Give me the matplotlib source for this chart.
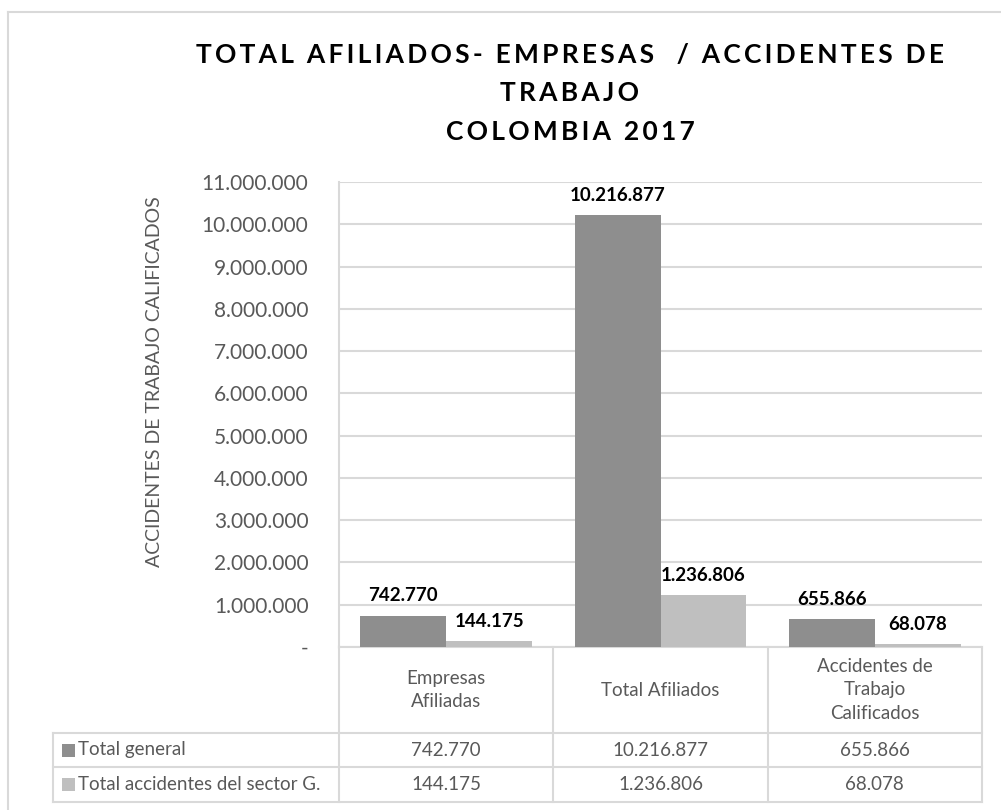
import matplotlib
matplotlib.use("Agg")
import matplotlib.pyplot as plt
from matplotlib.lines import Line2D
from matplotlib.patches import Rectangle
import numpy as np

# datos
categorias = ["Empresas\nAfiliadas", "Total Afiliados", "Accidentes de\nTrabajo\nCalificados"]
series = ["Total general", "Total accidentes del sector G."]
total_general = [742770, 10216877, 655866]
total_sector_g = [144175, 1236806, 68078]
y_ticks = [0, 1000000, 2000000, 3000000, 4000000, 5000000, 6000000,
           7000000, 8000000, 9000000, 10000000, 11000000]
titulo = ["TOTAL AFILIADOS- EMPRESAS  / ACCIDENTES DE", "TRABAJO", "COLOMBIA 2017"]

COLOR_OSCURO = "#8E8E8E"
COLOR_CLARO = "#BFBFBF"
GRIS_TEXTO = "#595959"
GRIS_LINEA = "#D9D9D9"

plt.rcParams['font.family'] = ['Lato', 'DejaVu Sans']

W, H = 1001, 810
fig = plt.figure(figsize=(W / 100, H / 100), dpi=100)

def fx(px):
    return px / W

def fy(py):
    return 1 - py / H

# marco exterior
fig.add_artist(Line2D([fx(8), fx(8)], [fy(12), 0], color=GRIS_LINEA, lw=1.5))
fig.add_artist(Line2D([fx(8), 1], [fy(12), fy(12)], color=GRIS_LINEA, lw=1.5))

AX_L, AX_R, AX_T, AX_B = 339, 982, 182, 647
ax = fig.add_axes([fx(AX_L), fy(AX_B), fx(AX_R - AX_L), (AX_B - AX_T) / H])

def fmt(v):
    return f"{v:,}".replace(",", ".")

x = np.arange(len(categorias))
ancho = 0.4
b1 = ax.bar(x - ancho / 2, total_general, ancho, color=COLOR_OSCURO, zorder=3)
b2 = ax.bar(x + ancho / 2, total_sector_g, ancho, color=COLOR_CLARO, zorder=3)

for barras, vals in ((b1, total_general), (b2, total_sector_g)):
    for b, v in zip(barras, vals):
        ax.annotate(fmt(v), (b.get_x() + b.get_width() / 2, v),
                    xytext=(0, 8), textcoords="offset points",
                    ha="center", va="bottom", fontsize=13.5,
                    fontweight="bold", color="black")

ax.set_xlim(-0.5, len(categorias) - 0.5)
ax.set_ylim(0, 11000000)
ax.set_yticks(y_ticks)
ax.set_yticklabels(["-" if t == 0 else fmt(t) for t in y_ticks])
ax.tick_params(axis="y", length=0, pad=22, labelsize=15, labelcolor=GRIS_TEXTO)
ax.set_xticks([])
ax.grid(axis="y", color=GRIS_LINEA, lw=1.5, zorder=0)
for s in ("top", "right"):
    ax.spines[s].set_visible(False)
ax.spines["left"].set_color(GRIS_LINEA)
ax.spines["left"].set_linewidth(1.5)
ax.spines["bottom"].set_color(GRIS_LINEA)
ax.spines["bottom"].set_linewidth(1.5)

fig.text(fx(155), fy(382), "ACCIDENTES DE TRABAJO CALIFICADOS", rotation=90,
         ha="center", va="center", fontsize=14, color=GRIS_TEXTO)

# titulo con espaciado entre letras
def espaciar(s):
    return "\u200a\u200a".join(s)

for linea, py in zip(titulo, (55, 93, 132)):
    fig.text(fx(570), fy(py), espaciar(linea), ha="center", va="center",
             fontsize=19, fontweight="bold", color="black")

# tabla de datos
T_IZQ = 53
FILA_H = 733
FILA_1 = 767
FILA_2 = 802
def ay(py):
    return (AX_B - py) / (AX_B - AX_T)

tr = ax.get_xaxis_transform()
bordes = np.arange(len(categorias) + 1) - 0.5
for bx in bordes:
    ax.add_line(Line2D([bx, bx], [ay(AX_B), ay(FILA_2)], transform=tr,
                       color=GRIS_LINEA, lw=1.5, clip_on=False))
for py in (FILA_H, FILA_1, FILA_2):
    fig.add_artist(Line2D([fx(T_IZQ), fx(AX_R)], [fy(py), fy(py)],
                          color=GRIS_LINEA, lw=1.5))
fig.add_artist(Line2D([fx(T_IZQ), fx(T_IZQ)], [fy(FILA_H), fy(FILA_2)],
                      color=GRIS_LINEA, lw=1.5))

for i, cat in enumerate(categorias):
    ax.text(i, ay((AX_B + FILA_H) / 2), cat, transform=tr, ha="center",
            va="center", fontsize=13.5, color=GRIS_TEXTO, linespacing=1.45)
    ax.text(i, ay((FILA_H + FILA_1) / 2), fmt(total_general[i]), transform=tr,
            ha="center", va="center", fontsize=13.5, color=GRIS_TEXTO)
    ax.text(i, ay((FILA_1 + FILA_2) / 2), fmt(total_sector_g[i]), transform=tr,
            ha="center", va="center", fontsize=13.5, color=GRIS_TEXTO)

for nombre, col, py0, py1 in ((series[0], COLOR_OSCURO, FILA_H, FILA_1),
                              (series[1], COLOR_CLARO, FILA_1, FILA_2)):
    yc = (py0 + py1) / 2
    fig.add_artist(Rectangle((fx(62), fy(yc + 6.5)), fx(13), 13 / H,
                             facecolor=col, edgecolor="none"))
    fig.text(fx(78), fy(yc), nombre, ha="left", va="center",
             fontsize=13.5, color=GRIS_TEXTO)

fig.savefig("out.png", dpi=100)
